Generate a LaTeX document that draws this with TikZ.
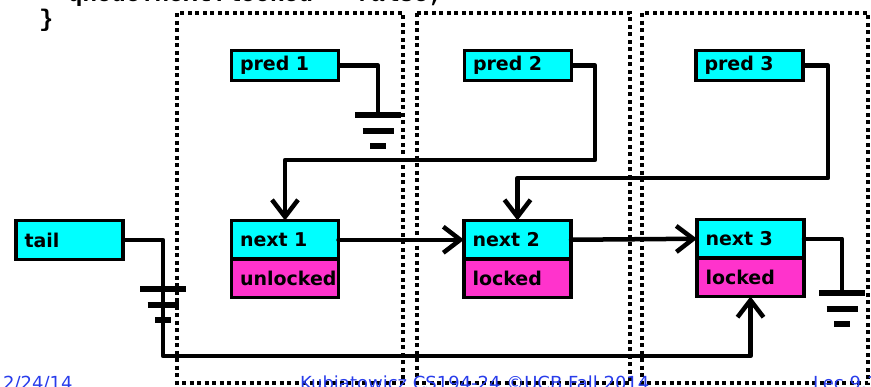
\documentclass[tikz,border=0pt]{standalone}
\usepackage{fontspec}
\setmainfont{DejaVu Sans}
\newfontfamily\codefont{Liberation Mono}
\usepackage{tikz}
\usetikzlibrary{calc}
\usetikzlibrary{arrows.meta}
\usetikzlibrary{positioning}
\definecolor{ptrcyan}{RGB}{0,255,255}
\definecolor{lockpink}{RGB}{255,51,204}
\definecolor{footblue}{RGB}{40,60,235}
\tikzset{>={Straight Barb[length=17pt, width=26pt]}}
\tikzstyle{ptrbox} = [rectangle, draw=black, line width=3.5pt, fill=ptrcyan, text width=90pt, inner xsep=8.5pt, align=left, minimum height=30pt, font=\fontsize{19}{20}\selectfont\bfseries]
\tikzstyle{cellbox} = [ptrbox, minimum height=38.5pt, outer sep=0pt]
\tikzstyle{lockbox} = [cellbox, fill=lockpink]
\tikzstyle{link} = [line width=4.5pt, line join=round, line cap=round]
\tikzstyle{dotframe} = [line width=4pt, dash pattern=on 4pt off 3.5pt]
\tikzstyle{gndbar} = [line width=5.5pt]
\tikzstyle{foot} = [anchor=base west, inner sep=0pt, text=footblue, font=\fontsize{18}{20}\selectfont]
\newcommand{\groundat}[1]{%
  \draw [gndbar] ($(#1)+(-23,0)$) -- ($(#1)+(23,0)$);
  \draw [gndbar] ($(#1)+(-15.5,16)$) -- ($(#1)+(15.5,16)$);
  \draw [gndbar] ($(#1)+(-8,31)$) -- ($(#1)+(8,31)$);}

\begin{document}
\begin{tikzpicture}[x=1pt, y=-1pt]
\useasboundingbox (0,0) rectangle (871,386);
\clip (0,0) rectangle (871,386);

% code cut by the top of the slide
\node [anchor=base west, inner sep=0pt, font=\codefont\bfseries\fontsize{24}{27}\selectfont] (code) at (68, 1) {qnode.next.locked = false;};
\node [anchor=base west, inner sep=0pt, font=\codefont\bfseries\fontsize{24}{27}\selectfont] (brace) at (39, 26) {\}};

% one frame per thread
\draw [dotframe] (177, 13) rectangle (403, 383);
\draw [dotframe] (417, 13) rectangle (630, 383);
\draw [dotframe] (642, 13) rectangle (868, 383);

\node [ptrbox] (pred1) at (285, 65.5) {pred 1};
\node [ptrbox] (pred2) at (518, 65.5) {pred 2};
\node [ptrbox] (pred3) at (749.5, 65.5) {pred 3};
\node [ptrbox, minimum height=39pt] (tail) at (69.5, 240) {tail};

\node [cellbox] (next1) at (285, 239.75) {next 1};
\node [lockbox, below=0pt of next1] (lock1) {unlocked};
\node [cellbox] (next2) at (517.5, 239.75) {next 2};
\node [lockbox, below=0pt of next2] (lock2) {locked};
\node [cellbox] (next3) at (750.5, 238.75) {next 3};
\node [lockbox, below=0pt of next3] (lock3) {locked};

\coordinate (g1) at (378, 115);
\coordinate (g0) at (163, 289);
\coordinate (g3) at (842, 293);
\coordinate (bend2) at (595, 160);
\coordinate (bend3) at (828, 178);
\coordinate (tailbend) at (163, 356);

\draw [link] (pred1.east) -| (g1);
\draw [link, ->] (pred2.east) -| (bend2) -| (next1.north);
\draw [link, ->] (pred3.east) -| (bend3) -| (next2.north);
\draw [link, ->] (next1.east) -- (next2.west);
\draw [link, ->] (next2.east) -- (next3.west);
\draw [link] (next3.east) -| (g3);
\draw [link, ->] (tail.east) -| (tailbend) -| (lock3.south);
\groundat{g1}
\groundat{g0}
\groundat{g3}

\node [foot] (date) at (3, 389) {2/24/14};
\node [foot] (credit) at (300, 389) {Kubiatowicz CS194-24 ©UCB Fall 2014};
\node [foot] (lec) at (813, 389) {Lec 9.1};
\end{tikzpicture}
\end{document}
